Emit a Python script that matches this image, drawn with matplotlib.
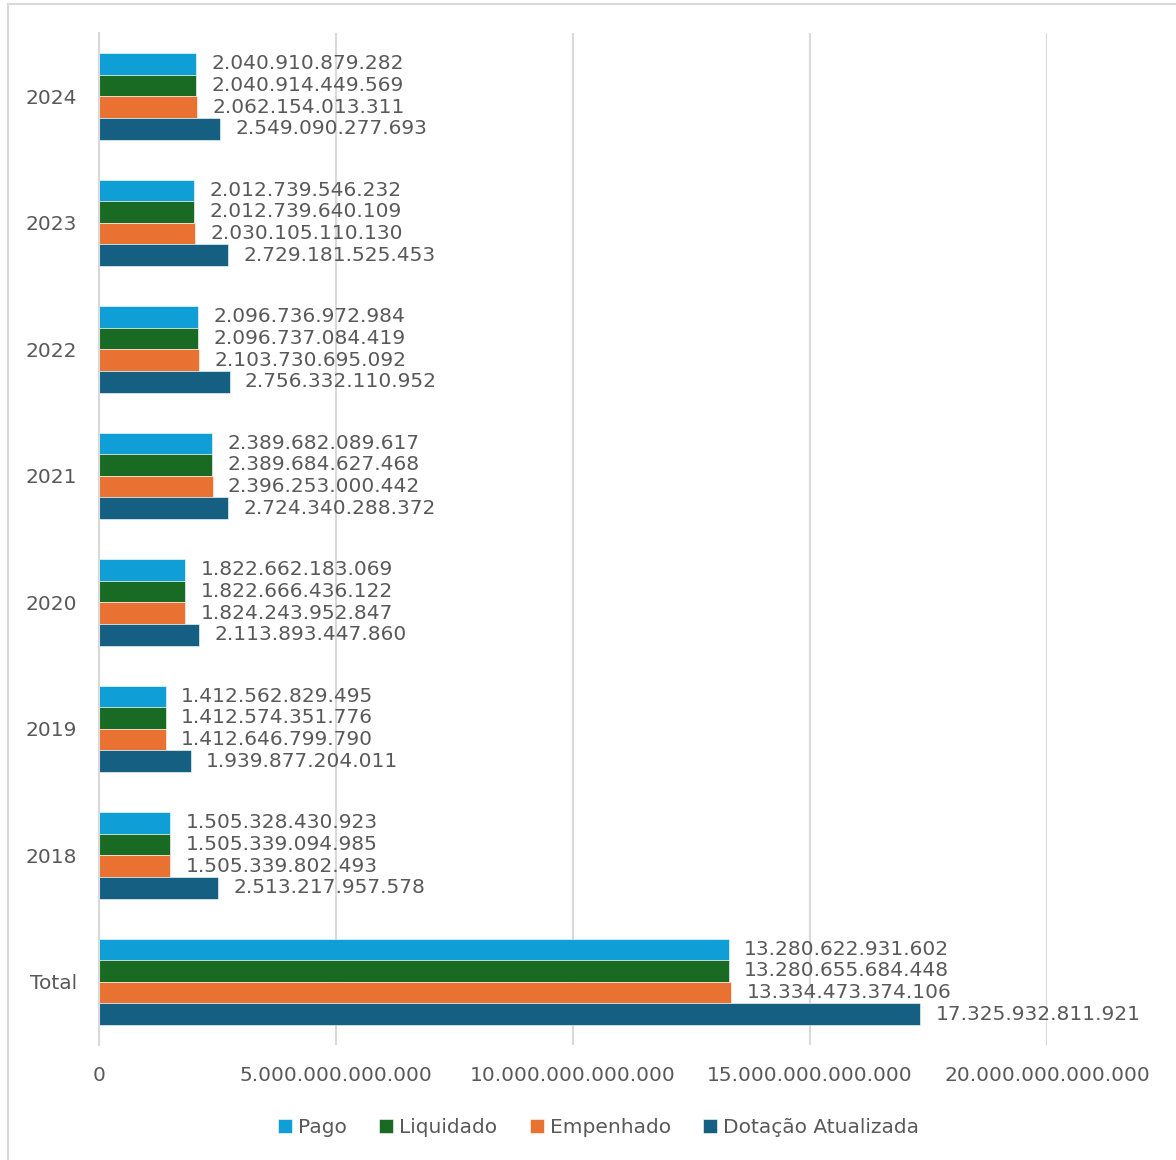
import numpy as np
import matplotlib
matplotlib.use('Agg')
import matplotlib.pyplot as plt
from matplotlib.lines import Line2D
from matplotlib.ticker import FuncFormatter

plt.rcParams['font.family'] = ['DejaVu Sans']

categorias = ['2024', '2023', '2022', '2021', '2020', '2019', '2018', 'Total']
pago = [2040910879282, 2012739546232, 2096736972984, 2389682089617,
        1822662183069, 1412562829495, 1505328430923, 13280622931602]
liquidado = [2040914449569, 2012739640109, 2096737084419, 2389684627468,
             1822666436122, 1412574351776, 1505339094985, 13280655684448]
empenhado = [2062154013311, 2030105110130, 2103730695092, 2396253000442,
             1824243952847, 1412646799790, 1505339802493, 13334473374106]
dotacao = [2549090277693, 2729181525453, 2756332110952, 2724340288372,
           2113893447860, 1939877204011, 2513217957578, 17325932811921]

series = [('Pago', pago, '#0F9ED5'),
          ('Liquidado', liquidado, '#196B24'),
          ('Empenhado', empenhado, '#E97132'),
          ('Dotação Atualizada', dotacao, '#156082')]

cinza = '#595959'

def br(v, pos=None):
    # separador de milhar com ponto
    return f'{int(round(v)):,}'.replace(',', '.')

fig = plt.figure(figsize=(11.76, 11.6), dpi=100)
ax = fig.add_axes([0.0842, 0.0991, 0.8061, 0.8724])

y = np.arange(len(categorias))
h = 0.171
for i, (nome, vals, cor) in enumerate(series):
    pos = y + (i - 1.5) * h
    barras = ax.barh(pos, vals, height=h, color=cor, label=nome,
                     edgecolor='white', linewidth=0.4)
    ax.bar_label(barras, labels=[br(v) for v in vals], padding=11,
                 fontsize=14.5, color=cinza)

ax.set_xlim(0, 20e12)
ax.set_ylim(len(categorias) - 0.5, -0.5)
ax.set_xticks(np.arange(0, 20.1e12, 5e12))
ax.xaxis.set_major_formatter(FuncFormatter(br))
ax.set_yticks(y)
ax.set_yticklabels(categorias)
ax.tick_params(axis='x', length=0, pad=15, labelsize=14.5, labelcolor=cinza)
ax.tick_params(axis='y', length=0, pad=16, labelsize=14.5, labelcolor=cinza)
ax.grid(axis='x', color='#D9D9D9', linewidth=1.5)
ax.set_axisbelow(True)
for s in ['top', 'right', 'bottom']:
    ax.spines[s].set_visible(False)
ax.spines['left'].set_color('#D9D9D9')
ax.spines['left'].set_linewidth(1.5)

handles, rotulos = ax.get_legend_handles_labels()
fig.legend(handles, rotulos, loc='center', bbox_to_anchor=(0.509, 0.0276),
           ncol=4, frameon=False, fontsize=14.5, labelcolor=cinza,
           handlelength=0.7, handleheight=0.7, handletextpad=0.3,
           columnspacing=1.6)

# moldura do gráfico
fig.add_artist(Line2D([0.0068, 1.0], [0.9966, 0.9966], color='#D9D9D9', lw=1.5))
fig.add_artist(Line2D([0.0068, 0.0068], [0.0, 0.9966], color='#D9D9D9', lw=1.5))

fig.savefig('out.png', dpi=100, facecolor='white')
